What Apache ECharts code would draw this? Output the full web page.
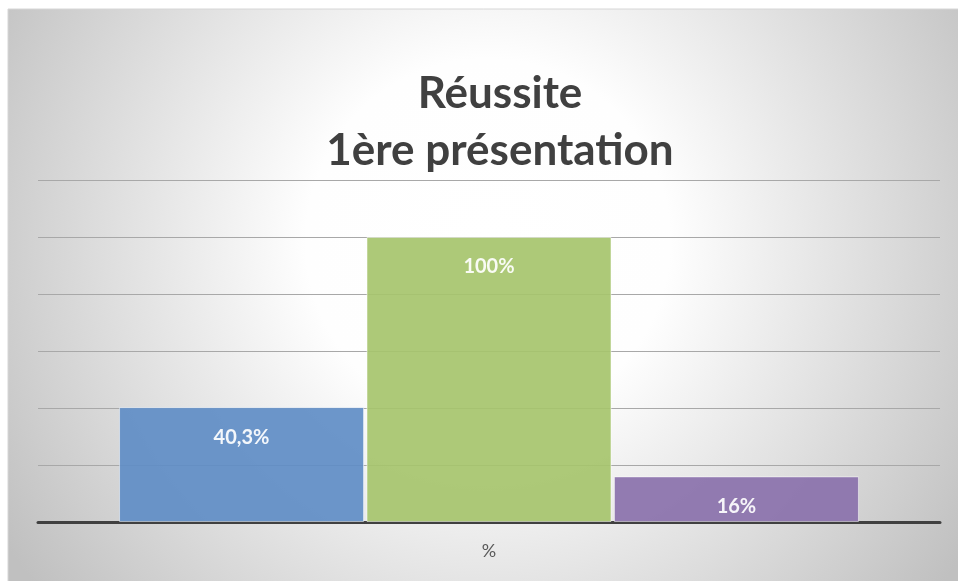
<!DOCTYPE html>
<html>
<head>
<meta charset="utf-8">
<script src="https://cdn.jsdelivr.net/npm/echarts@6/dist/echarts.min.js"></script>
<style>
  html, body { margin: 0; padding: 0; background: #fff; }
  #chart { width: 958px; height: 581px; }
</style>
</head>
<body>
<div id="chart"></div>
<script>
const categories = ['%']
const seriesNames = ['Réussite A', 'Réussite B', 'Réussite C']
const seriesValues = [40.3, 100, 16]
const valueLabels = ['40,3%', '100%', '16%']
const barColors = ['#5f8dc5', '#a6c46c', '#8a71ab']

const chart = echarts.init(document.getElementById('chart'))

const series = seriesNames.map((name, i) => {
  return {
    name: name,
    type: 'bar',
    data: [seriesValues[i]],
    barWidth: 245,
    barGap: '1%',
    itemStyle: {
      color: barColors[i],
      opacity: 0.92,
      borderColor: 'rgba(255,255,255,0.55)',
      borderWidth: 1
    },
    label: {
      show: true,
      position: 'insideTop',
      distance: 20,
      color: '#fff',
      fontFamily: 'Lato',
      fontWeight: 'bold',
      fontSize: 20,
      formatter: () => valueLabels[i]
    }
  }
})

const option = {
  backgroundColor: '#fff',
  animation: false,
  graphic: [{
    type: 'rect',
    z: -10,
    shape: { x: 8, y: 9, width: 960, height: 580 },
    style: {
      fill: {
        type: 'radial',
        x: 0.5, y: 0.4, r: 0.98,
        colorStops: [
          { offset: 0, color: '#ffffff' },
          { offset: 0.32, color: '#fefefe' },
          { offset: 1, color: '#c0c0c0' }
        ]
      },
      stroke: '#d6d6d6',
      lineWidth: 1
    }
  }],
  title: {
    text: 'Réussite\n1ère présentation',
    left: 495,
    textAlign: 'center',
    top: 60,
    textStyle: {
      fontFamily: 'Lato',
      fontWeight: 'bold',
      fontSize: 44,
      lineHeight: 57,
      color: '#404040'
    }
  },
  grid: {
    left: 38,
    right: 18,
    top: 180,
    bottom: 59
  },
  xAxis: {
    type: 'category',
    data: categories,
    axisTick: { show: false },
    axisLine: { lineStyle: { color: '#404040', width: 3 } },
    axisLabel: {
      color: '#595959',
      fontFamily: 'Lato',
      fontSize: 18,
      margin: 20
    }
  },
  yAxis: {
    type: 'value',
    min: 0,
    max: 120,
    interval: 20,
    axisLabel: { show: false },
    axisLine: { show: false },
    axisTick: { show: false },
    splitLine: { lineStyle: { color: '#a8a8a8', width: 1 } }
  },
  series: series
}

chart.setOption(option)
</script>
</body>
</html>
